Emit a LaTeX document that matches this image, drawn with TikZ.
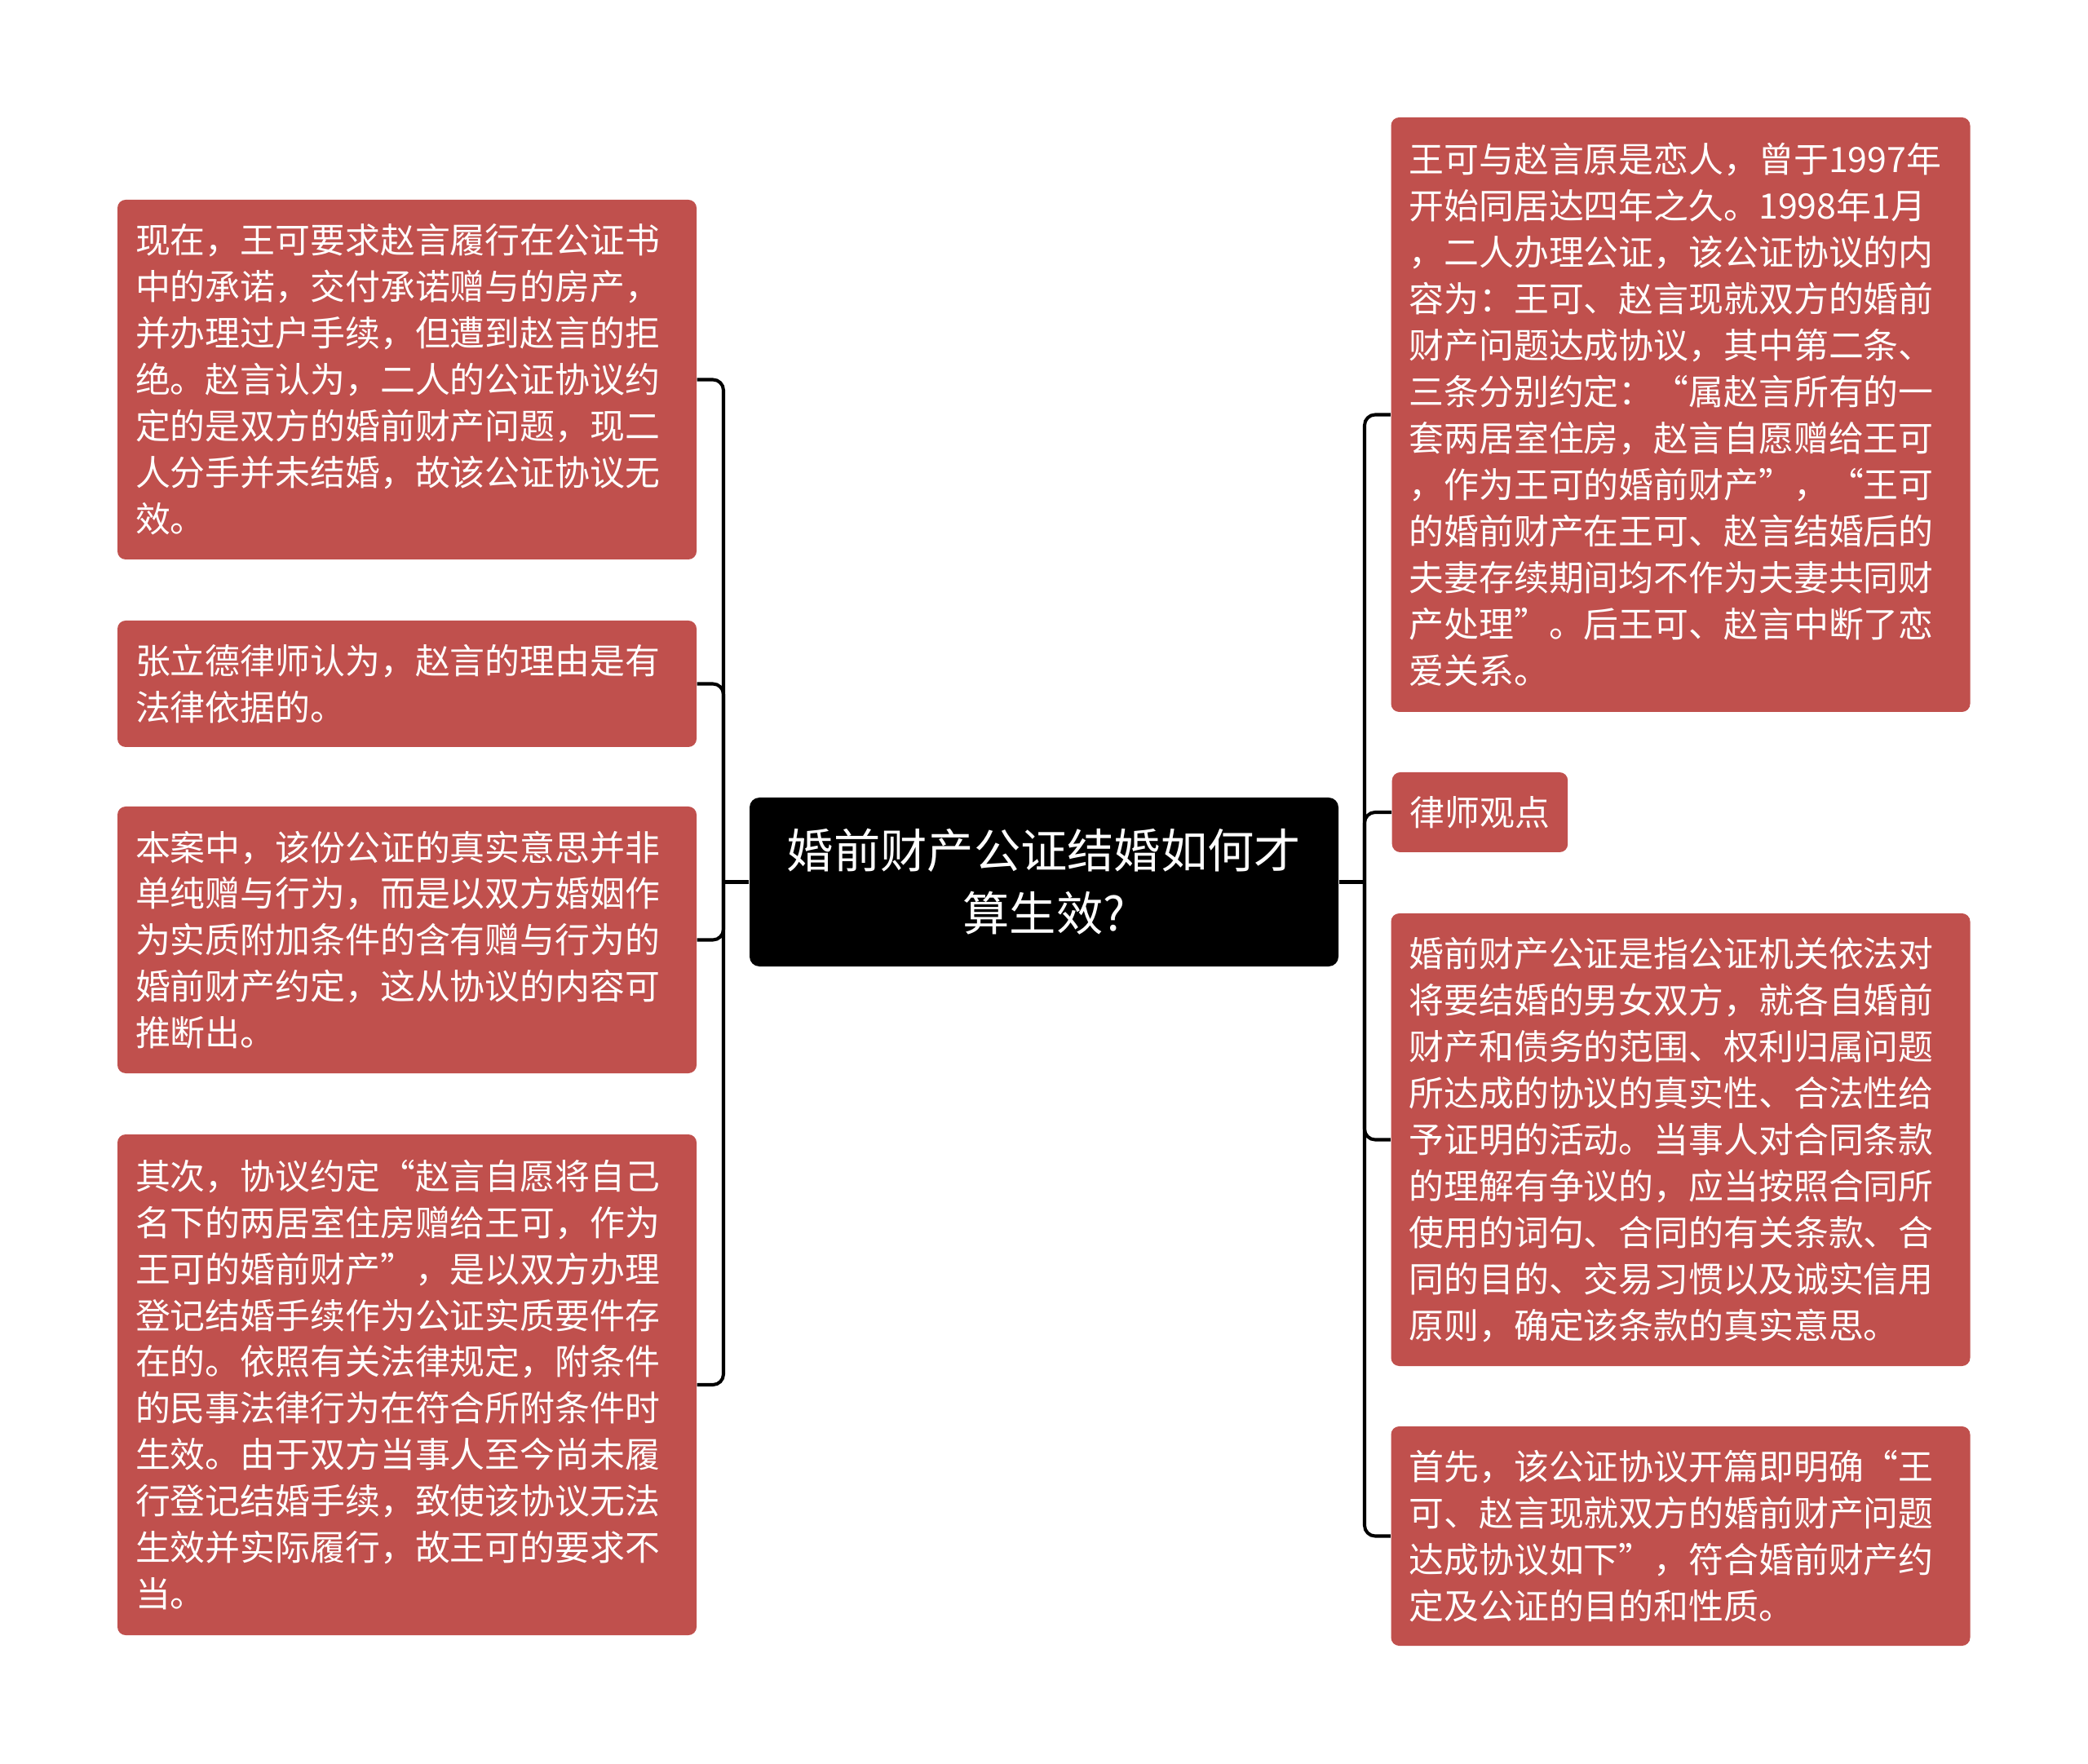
\documentclass[tikz,border=0pt]{standalone}
\usepackage{fontspec}
\newfontfamily\cjk{Noto Sans CJK SC}
\definecolor{leafred}{RGB}{192, 80, 77}
\usepackage{tikz}
\usetikzlibrary{positioning,calc}

\begin{document}
\begin{tikzpicture}[
    leaf/.style={rectangle,rounded corners=0.1cm,fill=leafred,text=white,
        font=\cjk\fontsize{12.2}{16.2}\selectfont,align=left,
        inner xsep=0.22cm,inner ysep=0cm},
    wide/.style={leaf,text width=6.66cm},
    root/.style={rectangle,rounded corners=0.12cm,fill=black,text=white,
        font=\cjk\fontsize{16.3}{21.9}\selectfont,align=center,
        minimum width=7.22cm,minimum height=2.07cm},
    link/.style={line width=1.15pt,rounded corners=0.13cm}]
    \useasboundingbox (0,0) rectangle (25.6,-21.63);

    \node[root] (q) at (12.80,-10.815) {婚前财产公证结婚如何才\\算生效?};

    % left side
    \node[wide,minimum height=4.41cm] (l1) at (4.99,-4.655) {现在，王可要求赵言履行在公证书\\中的承诺，交付承诺赠与的房产，\\并办理过户手续，但遭到赵言的拒\\绝。赵言认为，二人的公证协议约\\定的是双方的婚前财产问题，现二\\人分手并未结婚，故该公证协议无\\效。};
    \node[wide,minimum height=1.55cm] (l2) at (4.99,-8.385) {张立德律师认为，赵言的理由是有\\法律依据的。};
    \node[wide,minimum height=3.27cm] (l3) at (4.99,-11.525) {本案中，该份公证的真实意思并非\\单纯赠与行为，而是以双方婚姻作\\为实质附加条件的含有赠与行为的\\婚前财产约定，这从协议的内容可\\推断出。};
    \node[wide,minimum height=6.14cm] (l4) at (4.99,-16.98) {其次，协议约定“赵言自愿将自己\\名下的两居室住房赠给王可，作为\\王可的婚前财产”，是以双方办理\\登记结婚手续作为公证实质要件存\\在的。依照有关法律规定，附条件\\的民事法律行为在符合所附条件时\\生效。由于双方当事人至今尚未履\\行登记结婚手续，致使该协议无法\\生效并实际履行，故王可的要求不\\当。};

    % right side
    \node[wide,minimum height=7.29cm] (r1) at (20.605,-5.085) {王可与赵言原是恋人，曾于1997年\\开始同居达四年之久。1998年1月\\，二人办理公证，该公证协议的内\\容为：王可、赵言现就双方的婚前\\财产问题达成协议，其中第二条、\\三条分别约定：“属赵言所有的一\\套两居室住房，赵言自愿赠给王可\\，作为王可的婚前财产”，“王可\\的婚前财产在王可、赵言结婚后的\\夫妻存续期间均不作为夫妻共同财\\产处理”。后王可、赵言中断了恋\\爱关系。};
    \node[leaf,minimum height=0.98cm,anchor=west] (r2) at (17.06,-9.96) {律师观点};
    \node[wide,minimum height=5.55cm] (r3) at (20.605,-13.975) {婚前财产公证是指公证机关依法对\\将要结婚的男女双方，就各自婚前\\财产和债务的范围、权利归属问题\\所达成的协议的真实性、合法性给\\予证明的活动。当事人对合同条款\\的理解有争议的，应当按照合同所\\使用的词句、合同的有关条款、合\\同的目的、交易习惯以及诚实信用\\原则，确定该条款的真实意思。};
    \node[wide,minimum height=2.69cm] (r4) at (20.605,-18.835) {首先，该公证协议开篇即明确“王\\可、赵言现就双方的婚前财产问题\\达成协议如下”，符合婚前财产约\\定及公证的目的和性质。};

    \coordinate (lhub) at (8.87,-10.815);
    \coordinate (rhub) at (16.73,-10.815);
    \draw[link] (q.west) -- (lhub);
    \draw[link] (q.east) -- (rhub);
    \foreach \n in {l1,l2,l3,l4}
        \draw[link] (lhub) |- (\n.east);
    \foreach \n in {r1,r2,r3,r4}
        \draw[link] (rhub) |- (\n.west);
\end{tikzpicture}
\end{document}
